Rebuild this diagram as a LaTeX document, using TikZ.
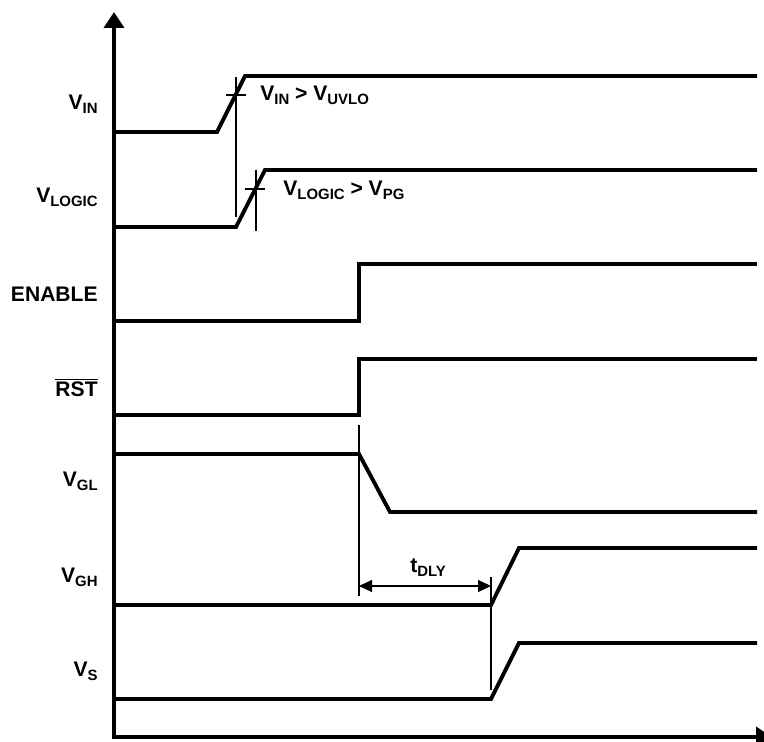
\documentclass[tikz,border=0pt]{standalone}
\usepackage{fontspec}
\setmainfont{Liberation Sans}
\usepackage{tikz}
\usetikzlibrary{arrows.meta}
\newcommand{\lowsub}[1]{\raisebox{-0.35ex}{\fontsize{8.5}{9}\selectfont #1}}

\begin{document}
\begin{tikzpicture}[
    x=0.02cm, y=-0.02cm,
    signal/.style={line width=2.2pt, line join=miter},
    guide/.style={line width=0.6pt},
    axis/.style={line width=2.2pt, -{Triangle[length=0.32cm, width=0.4cm]}},
    signame/.style={font=\bfseries\fontsize{12}{14}\selectfont, anchor=base east, inner sep=0pt},
    cond/.style={font=\bfseries\fontsize{12}{14}\selectfont, anchor=base west, inner sep=0pt},
    dly/.style={guide, {Triangle[length=0.26cm, width=0.24cm]}-{Triangle[length=0.26cm, width=0.24cm]}}
]
    \useasboundingbox (0,0) rectangle (764,742);

    % axes
    \draw[axis] (114,739) -- (114,12);
    \draw[axis] (113,737) -- (772,737);

    % signal names
    \node[signame] (vin) at (98,110) {V\lowsub{IN}};
    \node[signame] (vlogic) at (98,203) {V\lowsub{LOGIC}};
    \node[signame] (enable) at (98,302) {ENABLE};
    \node[signame] (rst) at (98,397) {$\overline{\hbox{RST}}$};
    \node[signame] (vgl) at (98,487) {V\lowsub{GL}};
    \node[signame] (vgh) at (98,583) {V\lowsub{GH}};
    \node[signame] (vs) at (98,677) {V\lowsub{S}};

    % waveforms
    \draw[signal] (114,132) -- (217,132) -- (245,76) -- (757,76);
    \draw[signal] (114,227) -- (236,227) -- (265,170) -- (757,170);
    \draw[signal] (114,321) -- (359,321) -- (359,264) -- (757,264);
    \draw[signal] (114,415) -- (359,415) -- (359,359) -- (757,359);
    \draw[signal] (114,454) -- (359,454) -- (390,512) -- (757,512);
    \draw[signal] (114,605) -- (491,605) -- (519,548) -- (757,548);
    \draw[signal] (114,699) -- (491,699) -- (519,643) -- (757,643);

    % thresholds
    \draw[guide] (236,77) -- (236,217);
    \draw[guide] (226,95) -- (246,95);
    \node[cond] (uvlo) at (260,101) {V\lowsub{IN} > V\lowsub{UVLO}};
    \draw[guide] (256,170) -- (256,231);
    \draw[guide] (245,189) -- (265,189);
    \node[cond] (pg) at (283,196) {V\lowsub{LOGIC} > V\lowsub{PG}};

    % delay
    \coordinate (dlyA) at (359,586);
    \coordinate (dlyB) at (491,586);
    \draw[guide] (359,425) -- (359,596);
    \draw[guide] (491,577) -- (491,690);
    \draw[dly] (dlyA) -- (dlyB);
    \node[cond] (tdly) at (410,573) {t\lowsub{DLY}};
\end{tikzpicture}
\end{document}
